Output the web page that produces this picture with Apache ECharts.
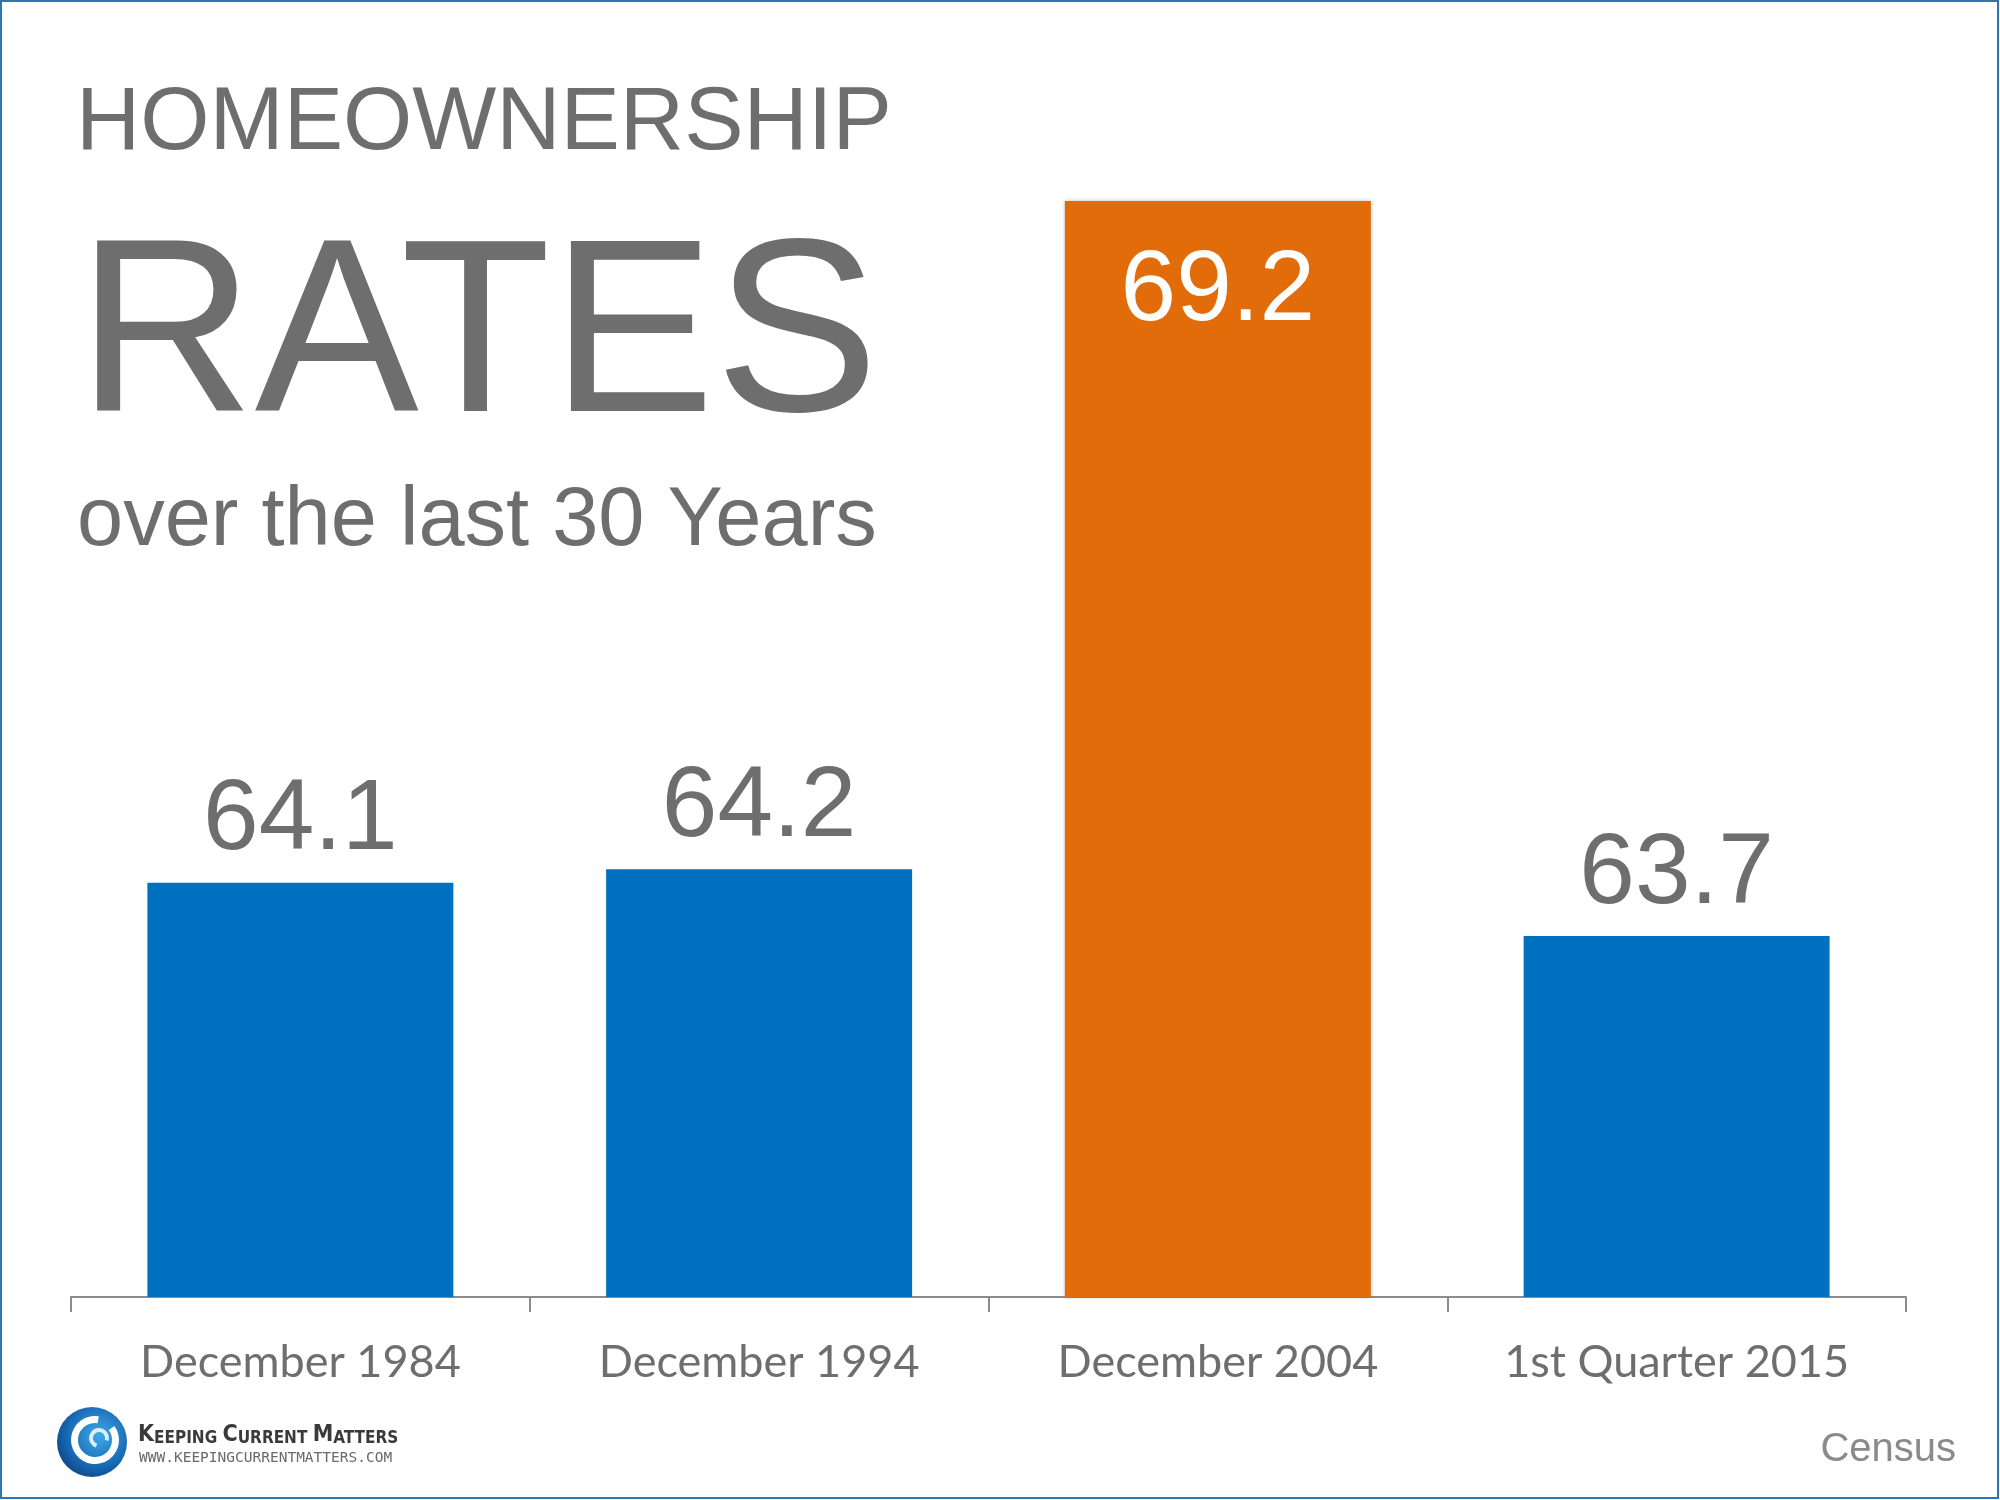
<!DOCTYPE html>
<html>
<head>
<meta charset="utf-8">
<script src="https://cdn.jsdelivr.net/npm/echarts@6/dist/echarts.min.js"></script>
<style>
html,body{margin:0;padding:0;background:#fff;}
#chart{width:2000px;height:1500px;}
</style>
</head>
<body>
<div id="chart"></div>
<script>
// ---- data ----
const categories = ['December 1984', 'December 1994', 'December 2004', '1st Quarter 2015'];
const rates = [64.1, 64.2, 69.2, 63.7];
const highlighted = 'December 2004';
const titleLines = ['HOMEOWNERSHIP', 'RATES', 'over the last 30 Years'];
const sourceText = 'Census';
const brandName = 'Keeping Current Matters';
const brandUrl = 'WWW.KEEPINGCURRENTMATTERS.COM';

const BLUE = '#0070C0';
const ORANGE = '#E36C0A';
const GRAY = '#6E6E6E';

const chart = echarts.init(document.getElementById('chart'));

const seriesData = rates.map((v, i) => {
  const hi = categories[i] === highlighted;
  return {
    value: v,
    itemStyle: hi ? { color: ORANGE, shadowColor: 'rgba(0,0,0,0.25)', shadowBlur: 4 } : { color: BLUE },
    label: hi ? { position: 'insideTop', distance: 41, color: '#ffffff' } : { position: 'top', distance: 11, color: GRAY }
  };
});

// small-caps style brand text
const brandRich = brandName.toUpperCase().split(' ').map(w => '{b|' + w[0] + '}{s|' + w.slice(1) + '}').join('{s| }');

chart.setOption({
  animation: false,
  backgroundColor: '#ffffff',
  grid: { left: 71, right: 94, top: 94, bottom: 203 },
  xAxis: {
    type: 'category',
    data: categories,
    axisLine: { show: true, lineStyle: { color: '#8C8C8C', width: 2 } },
    axisTick: { show: true, length: 15, lineStyle: { color: '#8C8C8C', width: 2 } },
    axisLabel: { fontFamily: 'Lato', fontSize: 45, color: GRAY, margin: 43 }
  },
  yAxis: {
    type: 'value', min: 61, max: 70, show: false,
    splitLine: { show: false }
  },
  series: [{
    type: 'bar',
    data: seriesData,
    barWidth: '66.7%',
    label: {
      show: true,
      fontFamily: 'Liberation Sans',
      fontSize: 100,
      formatter: p => p.value.toFixed(1)
    }
  }],
  graphic: [
    { type: 'rect', shape: { x: 1, y: 1, width: 1997, height: 1497 }, style: { fill: 'none', stroke: '#2E75B6', lineWidth: 2 }, z: 100 },
    { type: 'text', x: 76, y: 80, style: { text: titleLines[0], font: '89px "Liberation Sans"', fill: GRAY, verticalAlign: 'top' } },
    { type: 'text', x: 77, y: 220, style: { text: titleLines[1], font: '246px "Liberation Sans"', fill: GRAY, verticalAlign: 'top' } },
    { type: 'text', x: 77, y: 481, style: { text: titleLines[2], font: '83px "Liberation Sans"', fill: GRAY, verticalAlign: 'top' } },
    { type: 'text', x: 1956, y: 1430, style: { text: sourceText, font: '40px "Liberation Sans"', fill: '#8A8A8A', align: 'right', verticalAlign: 'top' } },
    // logo swirl
    { type: 'circle', shape: { cx: 92, cy: 1442, r: 35 },
      style: { fill: new echarts.graphic.RadialGradient(0.6, 0.4, 0.8, [{ offset: 0, color: '#3FA9E8' }, { offset: 0.6, color: '#1565B0' }, { offset: 1, color: '#0B2F66' }]) } },
    { type: 'sector', shape: { cx: 95, cy: 1440, r: 24, r0: 17, startAngle: -Math.PI * 0.2, endAngle: Math.PI * 1.55 }, style: { fill: '#ffffff' } },
    { type: 'sector', shape: { cx: 99, cy: 1438, r: 10, r0: 6, startAngle: Math.PI * 0.6, endAngle: Math.PI * 2.1 }, style: { fill: '#DDEFFF' } },
    { type: 'text', x: 138, y: 1424, style: { text: brandRich, verticalAlign: 'top', rich: {
        b: { font: 'bold 23px "DejaVu Sans Condensed"', fill: '#3A3A3A', verticalAlign: 'bottom' },
        s: { font: 'bold 17px "DejaVu Sans Condensed"', fill: '#3A3A3A', verticalAlign: 'bottom' } } } },
    { type: 'text', x: 139, y: 1451, style: { text: brandUrl, font: '14.5px "DejaVu Sans Mono"', fill: '#6A6A6A', verticalAlign: 'top' } }
  ]
});
</script>
</body>
</html>
